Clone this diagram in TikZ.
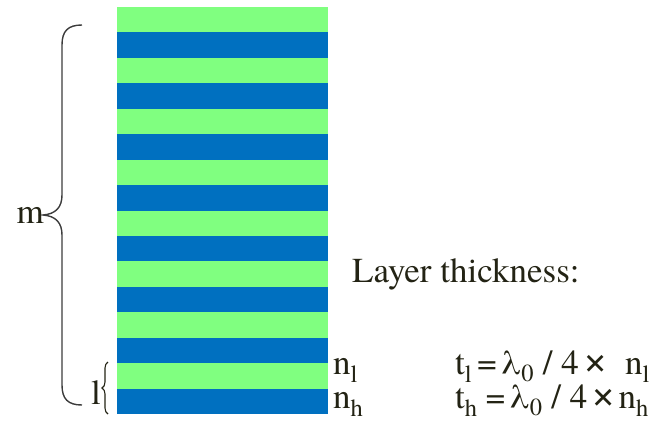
\documentclass[tikz,border=0pt]{standalone}
\usepackage{fontspec}
\setmainfont{TeX Gyre Termes}
\usetikzlibrary{decorations.pathreplacing}
\definecolor{LayerGreen}{RGB}{128,255,128}
\definecolor{LayerBlue}{RGB}{0,112,192}
\definecolor{InkColor}{RGB}{35,35,20}
\definecolor{BraceGray}{RGB}{60,60,60}
\newcommand{\labelsize}{\fontsize{35}{40}\selectfont}
\newcommand{\bigtimes}{{\fontsize{43}{43}\selectfont ×}}

\begin{document}
\begin{tikzpicture}[x=1pt, y=-1pt,
    lbl/.style={inner sep=0pt, text=InkColor, font=\labelsize}]
  \useasboundingbox (0,0) rectangle (659,424);
  % alternating layers, green on top
  \foreach \i in {0,2,...,14} {
    \fill[LayerGreen] (117,{7+25.4375*\i}) rectangle (328,{7.4+25.4375*(\i+1)});
    \fill[LayerBlue] (117,{7+25.4375*(\i+1)}) rectangle (328,{7.4+25.4375*(\i+2)});
  }
  % braces
  \draw[BraceGray, line width=1.4pt] (82,25) .. controls (68,25) and (62,31) .. (62,45) -- (62,195)
    .. controls (62,207) and (56,214) .. (43,215) .. controls (56,216) and (62,223) .. (62,235)
    -- (62,385) .. controls (62,399) and (68,405) .. (82,405);
  \draw[InkColor, line width=1.1pt, decorate, decoration={brace, amplitude=6pt}] (108,414) -- (108,362);
  \node[lbl, anchor=base east] (mlabel) at (44,223) {m};
  \node[lbl, anchor=base east] (llabel) at (101,404) {l};
  \node[lbl, anchor=base west] (nl) at (333,374) {n\textsubscript{l}};
  \node[lbl, anchor=base west] (nh) at (333,408) {n\textsubscript{h}};
  \node[lbl, anchor=base west] (title) at (352,282) {Layer thickness:};
  \node[lbl, anchor=base west] (eql) at (455,374)
    {t\textsubscript{l}\hspace{5pt}=\hspace{4pt}λ\textsubscript{0} / 4\hspace{5pt}\bigtimes\hspace{17pt}n\textsubscript{l}};
  \node[lbl, anchor=base west] (eqh) at (455,408)
    {t\textsubscript{h}\hspace{8pt}=\hspace{4pt}λ\textsubscript{0} / 4\hspace{4pt}\bigtimes\hspace{3pt}n\textsubscript{h}};
\end{tikzpicture}
\end{document}
